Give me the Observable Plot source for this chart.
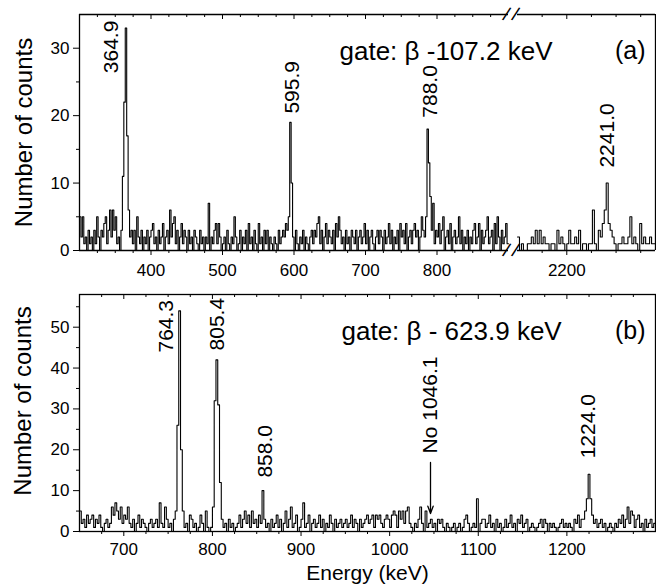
<!DOCTYPE html>
<html><head><meta charset="utf-8">
<script src="https://cdn.jsdelivr.net/npm/d3@7"></script>
<script src="https://cdn.jsdelivr.net/npm/@observablehq/plot@0.6"></script>
<style>
body{margin:0;background:#fff;}
#fig{position:relative;width:656px;height:584px;overflow:hidden;}
#fig svg{position:absolute;left:0;}
</style></head><body><div id="fig"></div>
<script>
// ---------- data ----------
const binWidth = 2; // keV
// panel (a), first x segment, bins from 300 keV
const startA1 = 300;
const countsA1 = [
  5,2,5,1,2,0,3,1,2,0,3,1,5,2,0,3,2,4,5,1,3,6,2,6,3,
  5,1,2,0,3,11,22,33,17,6,2,3,1,3,0,5,2,1,3,0,2,1,3,0,2,
  3,4,1,2,0,3,1,2,4,0,2,3,1,6,2,4,5,1,3,0,2,4,1,3,2,
  0,3,1,2,0,3,2,1,0,3,1,2,0,2,1,7,0,2,1,3,4,1,4,2,0,
  1,2,0,3,1,0,2,1,5,2,0,1,3,0,2,1,3,0,4,1,2,0,3,1,0,
  4,1,2,0,3,1,3,0,2,1,0,2,1,0,3,1,2,3,2,4,3,5,19,10,2,
  0,3,1,0,2,1,3,0,2,1,0,2,3,1,3,2,4,5,1,3,0,2,4,1,3,
  2,1,3,0,4,2,5,3,1,2,0,3,1,2,0,3,2,1,3,0,2,3,1,2,4,
  1,3,0,2,3,1,0,2,3,1,3,2,0,3,1,2,4,1,3,0,2,1,3,0,4,
  2,3,1,4,0,2,3,1,3,4,2,3,0,2,5,3,2,5,18,13,8,3,7,1,3,
  2,4,1,3,5,0,2,3,1,4,0,2,3,1,2,5,1,3,0,2,1,3,0,2,1,
  3,4,1,2,4,0,3,1,2,3,5,1,2,3,0,4,1,5,2,0,3,1,2,4,1
];
// panel (a), second x segment, bins from 2150 keV
const startA2 = 2150;
const countsA2 = [
  2,0,1,0,0,1,1,2,1,3, 1,3,1,2,1,1,0,1,1,0, 3,1,2,1,0,1,3,1,1,2,
  1,3,0,1,1,0,1,1,6,1, 0,3,2,4,6,10,4,3,2,1, 0,1,1,2,1,1,2,5,1,2,
  1,0,4,1,2,1,1,2,1,1
];
// panel (b), bins from 650 keV
const startB = 650;
const countsB = [
  5,2,3,1,4,2,3,4,1,3,2,4,1,0,2,3,1,2,6,4,7,5,3,6,2,
  4,3,6,2,1,3,0,2,4,1,3,2,1,0,2,3,1,2,3,1,7,2,1,6,3,
  1,2,0,3,5,26,54,20,5,1,2,0,4,3,1,2,0,1,4,2,0,5,1,0,1,
  6,32,42,31,12,3,1,2,0,3,1,2,0,1,2,4,1,3,5,2,4,1,5,2,3,
  1,4,2,10,3,1,2,0,3,1,2,4,1,3,0,2,5,1,3,6,1,2,4,0,1,
  3,7,1,2,4,0,2,3,1,2,4,1,3,0,2,1,4,2,0,3,1,2,3,1,2,
  3,1,2,4,1,3,2,0,3,1,2,3,4,2,3,4,1,4,3,4,2,1,3,4,3,
  1,4,5,4,1,5,3,5,2,5,6,2,1,0,2,1,3,6,2,0,5,1,2,3,1,
  2,0,3,2,3,1,0,2,1,0,1,2,0,1,2,0,1,3,4,2,0,1,2,1,8,
  0,2,3,3,1,2,4,1,2,0,3,1,2,0,1,3,1,2,4,1,2,0,3,2,4,
  1,2,3,0,1,2,1,0,1,2,3,1,3,2,0,2,1,2,1,0,1,2,3,1,2,
  1,2,1,0,3,2,4,1,3,3,5,8,14,8,4,2,3,1,2,3,1,2,0,1,2,
  1,0,2,1,3,2,4,1,3,6,2,5,4,1,3,4,1,2,0,3,1,2,3,1,2
];
// peak annotations
const peakTextA = ["364.9", "595.9", "788.0", "2241.0"];
const peakEnergyA = [364.9, 595.9, 788.0, 2241.0];
const peakLabelLevelA = [26.3, 20.3, 19.7, 12.3];
const peakTextB = ["764.3", "805.4", "858.0", "No 1046.1", "1224.0"];
const peakEnergyB = [764.3, 805.4, 858.0, 1046.1, 1224.0];
const peakLabelLevelB = [43.8, 44.3, 13.2, 19.1, 17.9];
const arrowEnergyB = [1046.1];
const arrowFromB = [16.9];
const arrowToB = [4.4];
// axes
const xDomainA = [300, 900, 2150, 2290];
const xMajorA = [400, 500, 600, 700, 800, 2200];
const xMinorA = [325,350,375,425,450,475,525,550,575,625,650,675,725,750,775,825,850,875,2175,2225,2250,2275];
const yMajorA = [0, 10, 20, 30];
const yMinorA = [5, 15, 25];
const xDomainB = [650, 1300];
const xMajorB = [700, 800, 900, 1000, 1100, 1200];
const xMinorB = [675,725,750,775,825,850,875,925,950,975,1025,1050,1075,1125,1150,1175,1225,1250,1275];
const yMajorB = [0, 10, 20, 30, 40, 50];
const yMinorB = [5, 15, 25, 35, 45, 55];
const gateA = "gate: β -107.2 keV", tagA = "(a)";
const gateB = "gate: β - 623.9 keV", tagB = "(b)";
const yTitle = "Number of counts", xTitle = "Energy (keV)";

// ---------- helpers ----------
function histo(start, counts, seg) {
  const pts = counts.map((c, i) => ({e: start + i * binWidth, c, seg}));
  pts.push({e: start + counts.length * binWidth, c: counts[counts.length - 1], seg});
  return pts;
}
const font = "'Liberation Sans', Arial, Helvetica, sans-serif";
const style = {fontFamily: font, fontSize: "17px", color: "#000", background: "white", overflow: "visible"};
const fmt = d3.format("d");
const ink = "#000";

// ---------- panel (a) ----------
const specA = histo(startA1, countsA1, 1).concat(histo(startA2, countsA2, 2));
const HA = 280, mtA = 14, mbA = 30;
const frameHA = HA - mtA - mbA;
const labA = peakTextA.map((t, i) => ({t, e: peakEnergyA[i], y: peakLabelLevelA[i]}));
const offA = [-15, 1, 2, 0];

const plotA = Plot.plot({
  width: 656, height: HA, marginTop: mtA, marginBottom: mbA, marginLeft: 79, marginRight: 1,
  style,
  x: {type: "linear", domain: xDomainA, range: [79, 508, 517, 655], axis: null},
  y: {domain: [0, 35], axis: null},
  marks: [
    Plot.line(specA, {x: "e", y: "c", z: "seg", curve: "step-after", stroke: ink, strokeWidth: 1.1}),
    // frame pieces (broken axis)
    Plot.ruleY([0, 35], {x1: xDomainA[0], x2: xDomainA[1], stroke: ink, strokeWidth: 1.3}),
    Plot.ruleY([0, 35], {x1: xDomainA[2], x2: xDomainA[3], stroke: ink, strokeWidth: 1.3}),
    Plot.ruleX([xDomainA[0], xDomainA[3]], {y1: 0, y2: 35, stroke: ink, strokeWidth: 1.3}),
    // break marks
    Plot.text([xDomainA[1], xDomainA[1], xDomainA[2], xDomainA[2]], {x: d => d, y: (d, i) => i % 2 ? 35 : 0, text: () => "/", fontSize: 19, dx: -2, fill: ink, rotate: 18}),
    // ticks
    Plot.axisX(xMajorA, {anchor: "bottom", tickSize: 5, tickPadding: 8, tickFormat: fmt, label: null, fill: ink, stroke: ink}),
    Plot.axisX(xMinorA, {anchor: "bottom", tickSize: 3, tickFormat: () => "", label: null, stroke: ink}),
    Plot.ruleX(xMajorA, {insetBottom: frameHA - 5, stroke: ink}),
    Plot.ruleX(xMinorA, {insetBottom: frameHA - 3, stroke: ink}),
    Plot.axisY(yMajorA, {anchor: "left", tickSize: 6, tickPadding: 4, tickFormat: fmt, label: null, fill: ink, stroke: ink}),
    Plot.axisY(yMinorA, {anchor: "left", tickSize: 3, tickFormat: () => "", label: null, stroke: ink}),
    // texts
    Plot.text([yTitle], {frameAnchor: "left", dx: -55, rotate: -90, textAnchor: "middle", fontSize: 24, fill: ink}),
    Plot.text([gateA], {frameAnchor: "top-left", dx: 260, dy: 27, textAnchor: "start", fontSize: 26, fill: ink}),
    Plot.text([tagA], {frameAnchor: "top-right", dx: -10, dy: 27, textAnchor: "end", fontSize: 25, fill: ink}),
    ...labA.map((d, i) => Plot.text([d], {x: "e", y: "y", text: "t", rotate: -90, textAnchor: "start", fontSize: 21, dx: offA[i], fill: ink}))
  ]
});

// ---------- panel (b) ----------
const specB = histo(startB, countsB, 1);
const HB = 304, mtB = 14, mbB = 53;
const frameHB = HB - mtB - mbB;
const labB = peakTextB.map((t, i) => ({t, e: peakEnergyB[i], y: peakLabelLevelB[i]}));
const offB = [-15, 0, 1, 0, 0];
const arrB = arrowEnergyB.map((e, i) => ({e, y1: arrowFromB[i], y2: arrowToB[i]}));

const plotB = Plot.plot({
  width: 656, height: HB, marginTop: mtB, marginBottom: mbB, marginLeft: 79, marginRight: 1,
  style,
  x: {domain: xDomainB, axis: null},
  y: {domain: [0, 58], axis: null},
  marks: [
    Plot.line(specB, {x: "e", y: "c", curve: "step-after", stroke: ink, strokeWidth: 1.1}),
    Plot.frame({stroke: ink, strokeWidth: 1.3}),
    Plot.axisX(xMajorB, {anchor: "bottom", tickSize: 5, tickPadding: 6, tickFormat: fmt, label: null, fill: ink, stroke: ink}),
    Plot.axisX(xMinorB, {anchor: "bottom", tickSize: 3, tickFormat: () => "", label: null, stroke: ink}),
    Plot.ruleX(xMajorB, {insetBottom: frameHB - 5, stroke: ink}),
    Plot.ruleX(xMinorB, {insetBottom: frameHB - 3, stroke: ink}),
    Plot.axisY(yMajorB, {anchor: "left", tickSize: 6, tickPadding: 4, tickFormat: fmt, label: null, fill: ink, stroke: ink}),
    Plot.axisY(yMinorB, {anchor: "left", tickSize: 3, tickFormat: () => "", label: null, stroke: ink}),
    Plot.arrow(arrB, {x1: "e", x2: "e", y1: "y1", y2: "y2", stroke: ink, strokeWidth: 1.3, headLength: 9, headAngle: 40}),
    Plot.text([yTitle], {frameAnchor: "left", dx: -56, dy: -12, rotate: -90, textAnchor: "middle", fontSize: 24, fill: ink}),
    Plot.text([xTitle], {frameAnchor: "bottom", dy: 48, fontSize: 21, fill: ink}),
    Plot.text([gateB], {frameAnchor: "top-left", dx: 262, dy: 27, textAnchor: "start", fontSize: 26, fill: ink}),
    Plot.text([tagB], {frameAnchor: "top-right", dx: -10, dy: 27, textAnchor: "end", fontSize: 25, fill: ink}),
    ...labB.map((d, i) => Plot.text([d], {x: "e", y: "y", text: "t", rotate: -90, textAnchor: "start", fontSize: 21, dx: offB[i], fill: ink}))
  ]
});

const fig = document.getElementById("fig");
plotA.style.top = "0px";
plotB.style.top = HA + "px";
fig.appendChild(plotA);
fig.appendChild(plotB);
</script>
</body></html>
